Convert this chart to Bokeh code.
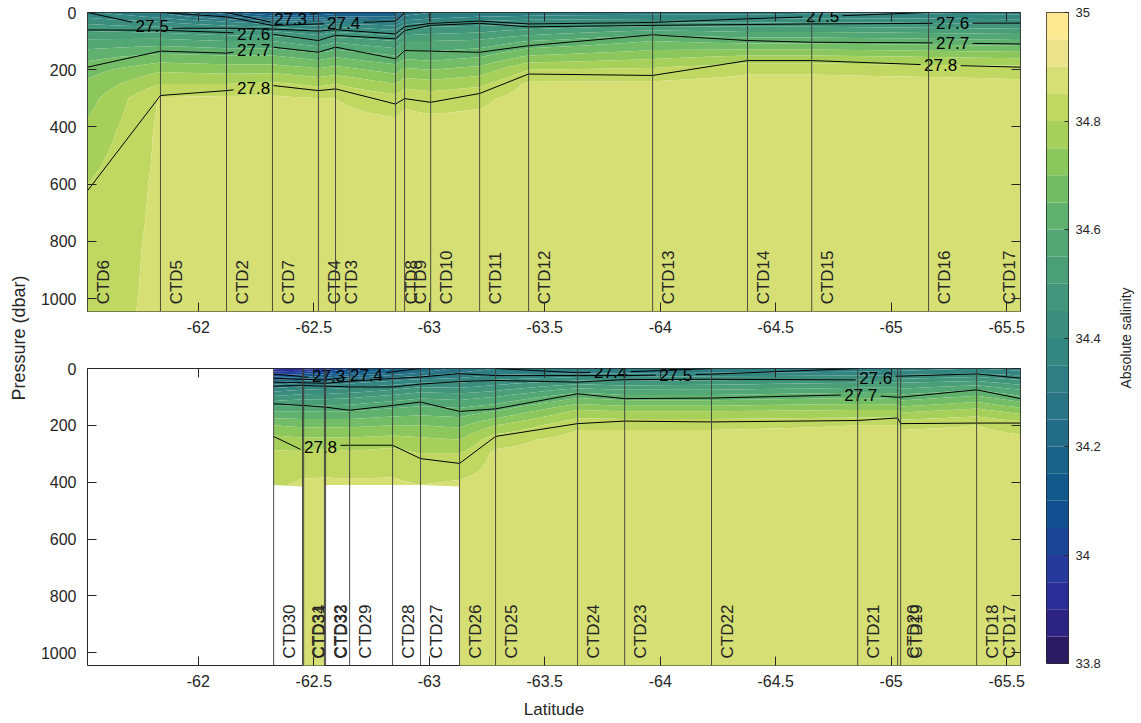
import math
import numpy as np
from bokeh.plotting import figure
from bokeh.layouts import row, column
from bokeh.models import (Range1d, LinearAxis, FixedTicker, Span,
                          NumeralTickFormatter, CustomJSTickFormatter)
from bokeh.embed import file_html
from bokeh.resources import INLINE
from bokeh.core.properties import value

NA = None

# ---------------- colour scale: absolute salinity ----------------
sal_lo, sal_hi, sal_step = 33.8, 35.0, 0.05
sal_palette = [
    "#2b1b62", "#2d2382", "#2b2d97", "#253a9b", "#1b4597", "#124f91",
    "#135a8c", "#1a6389", "#226c87", "#297585", "#2f7e83", "#348681",
    "#3b8e7e", "#42967c", "#4a9f79", "#53a775", "#60b16e", "#73bd66",
    "#8cc75d", "#a6d05a", "#c0d862", "#d6df74", "#ebe38a", "#fde98f",
]
cbar_ticks = [33.8, 34.0, 34.2, 34.4, 34.6, 34.8, 35.0]
x_ticks = [-62, -62.5, -63, -63.5, -64, -64.5, -65, -65.5]
y_ticks = [0, 200, 400, 600, 800, 1000]
p_axis_max = 1045

# pressure levels of the station profiles (dbar)
pres_levels = [0, 15, 30, 50, 75, 100, 150, 200, 250, 300, 410, 600, 800, 1050]

# ---------------- upper section ----------------
top_names = ["CTD6", "CTD5", "CTD2", "CTD7", "CTD4", "CTD3", "CTD8", "CTD9",
             "CTD10", "CTD11", "CTD12", "CTD13", "CTD14", "CTD15", "CTD16", "CTD17"]
top_lat = [-61.52, -61.836, -62.122, -62.321, -62.520, -62.594, -62.854, -62.893,
           -63.006, -63.218, -63.430, -63.967, -64.378, -64.656, -65.162, -65.56]
top_salinity = [
    [34.36, 34.39, 34.43, 34.47, 34.52, 34.56, 34.63, 34.68, 34.71, 34.73, 34.76, 34.80, 34.82, 34.83],
    [34.30, 34.34, 34.39, 34.45, 34.51, 34.57, 34.66, 34.74, 34.80, 34.855, 34.86, 34.86, 34.86, 34.86],
    [34.17, 34.25, 34.34, 34.42, 34.49, 34.55, 34.65, 34.73, 34.80, 34.86, 34.87, 34.87, 34.87, 34.87],
    [34.08, 34.18, 34.30, 34.40, 34.48, 34.55, 34.65, 34.73, 34.81, 34.86, 34.87, 34.87, 34.87, 34.87],
    [34.10, 34.18, 34.28, 34.37, 34.44, 34.51, 34.62, 34.71, 34.79, 34.85, 34.87, 34.87, 34.87, 34.87],
    [34.12, 34.21, 34.31, 34.40, 34.47, 34.54, 34.64, 34.72, 34.80, 34.85, 34.87, 34.87, 34.87, 34.87],
    [34.12, 34.20, 34.29, 34.37, 34.44, 34.50, 34.60, 34.68, 34.75, 34.82, 34.87, 34.87, 34.87, 34.87],
    [34.27, 34.31, 34.36, 34.43, 34.49, 34.55, 34.63, 34.71, 34.78, 34.84, 34.87, 34.87, 34.87, 34.87],
    [34.30, 34.33, 34.38, 34.45, 34.50, 34.55, 34.62, 34.70, 34.77, 34.83, 34.87, 34.87, 34.87, 34.87],
    [34.31, 34.35, 34.40, 34.46, 34.51, 34.56, 34.64, 34.72, 34.79, 34.84, 34.87, 34.87, 34.87, 34.87],
    [34.32, 34.36, 34.42, 34.48, 34.54, 34.60, 34.70, 34.80, 34.86, 34.87, 34.87, 34.87, 34.87, 34.87],
    [34.33, 34.37, 34.43, 34.51, 34.59, 34.65, 34.73, 34.81, 34.86, 34.87, 34.87, 34.87, 34.87, 34.87],
    [34.33, 34.37, 34.43, 34.50, 34.57, 34.63, 34.75, 34.84, 34.87, 34.87, 34.87, 34.87, 34.87, 34.87],
    [34.34, 34.38, 34.44, 34.50, 34.57, 34.63, 34.75, 34.84, 34.87, 34.87, 34.87, 34.87, 34.87, 34.87],
    [34.34, 34.38, 34.43, 34.49, 34.56, 34.62, 34.74, 34.83, 34.87, 34.87, 34.87, 34.87, 34.87, 34.87],
    [34.33, 34.37, 34.42, 34.48, 34.55, 34.61, 34.73, 34.83, 34.86, 34.87, 34.87, 34.87, 34.87, 34.87],
]
# isopycnal depths (dbar) at each station, None where the surface is absent
top_s273 = [NA, NA, 0, 35, 0, NA, NA, NA, NA, NA, NA, NA, NA, NA, NA, NA]
top_s274 = [NA, 0, 15, 45, 40, 38, 30, 0, NA, NA, NA, NA, NA, NA, NA, NA]
top_s275 = [0, 55, 55, 58, 65, 60, 75, 50, 38, 30, 40, 35, 22, 15, 0, NA]
top_s276 = [61, 62, 70, 76, 98, 80, 92, 63, 45, 38, 50, 45, 42, 40, 38, 37]
top_s277 = [191, 135, 142, 121, 139, 121, 162, 133, 135, 139, 116, 78, 98, 104, 106, 110]
top_s278 = [623, 290, 273, 255, 273, 267, 320, 301, 314, 283, 215, 220, 168, 168, 183, 191]
top_label_level = ["27.5", "27.6", "27.7", "27.8", "27.3", "27.4", "27.5", "27.6", "27.7", "27.8"]
top_label_lat = [-61.80, -62.239, -62.239, -62.239, -62.399, -62.629, -64.703, -65.266, -65.266, -65.214]

# ---------------- lower section ----------------
bot_names = ["CTD30", "CTD31", "CTD34", "CTD32", "CTD33", "CTD29", "CTD28", "CTD27", "CTD26",
             "CTD25", "CTD24", "CTD23", "CTD22", "CTD21", "CTD20", "CTD19", "CTD18", "CTD17"]
bot_lat = [-62.326, -62.451, -62.456, -62.546, -62.551, -62.655, -62.841, -62.962, -63.131,
           -63.287, -63.642, -63.846, -64.222, -64.855, -65.028, -65.041, -65.370, -65.56]
bot_salinity = [
    [33.88, 33.98, 34.12, 34.27, 34.38, 34.46, 34.60, 34.70, 34.77, 34.81, 34.84, NA, NA, NA],
    [33.90, 34.00, 34.15, 34.30, 34.40, 34.48, 34.60, 34.69, 34.76, 34.81, 34.86, 34.87, 34.87, 34.87],
    [33.92, 34.02, 34.16, 34.31, 34.40, 34.48, 34.60, 34.69, 34.76, 34.81, 34.86, 34.87, 34.87, 34.87],
    [33.95, 34.05, 34.18, 34.32, 34.41, 34.48, 34.60, 34.69, 34.76, 34.82, 34.86, 34.87, 34.87, 34.87],
    [33.97, 34.07, 34.19, 34.33, 34.41, 34.48, 34.60, 34.69, 34.76, 34.82, 34.86, NA, NA, NA],
    [34.05, 34.12, 34.22, 34.34, 34.42, 34.49, 34.60, 34.69, 34.76, 34.81, 34.86, NA, NA, NA],
    [34.15, 34.21, 34.29, 34.38, 34.45, 34.52, 34.62, 34.70, 34.77, 34.82, 34.86, NA, NA, NA],
    [34.20, 34.25, 34.32, 34.40, 34.48, 34.54, 34.63, 34.70, 34.76, 34.80, 34.85, NA, NA, NA],
    [34.27, 34.30, 34.34, 34.40, 34.47, 34.53, 34.62, 34.69, 34.75, 34.80, 34.86, 34.87, 34.87, 34.87],
    [34.30, 34.33, 34.37, 34.43, 34.49, 34.55, 34.65, 34.75, 34.83, 34.86, 34.87, 34.87, 34.87, 34.87],
    [34.30, 34.34, 34.40, 34.48, 34.57, 34.64, 34.76, 34.84, 34.87, 34.87, 34.87, 34.87, 34.87, 34.87],
    [34.30, 34.34, 34.40, 34.47, 34.55, 34.62, 34.75, 34.84, 34.87, 34.87, 34.87, 34.87, 34.87, 34.87],
    [34.31, 34.35, 34.41, 34.48, 34.55, 34.62, 34.75, 34.84, 34.87, 34.87, 34.87, 34.87, 34.87, 34.87],
    [34.32, 34.36, 34.42, 34.50, 34.57, 34.64, 34.76, 34.85, 34.87, 34.87, 34.87, 34.87, 34.87, 34.87],
    [34.33, 34.37, 34.43, 34.50, 34.57, 34.63, 34.76, 34.85, 34.87, 34.87, 34.87, 34.87, 34.87, 34.87],
    [34.33, 34.37, 34.43, 34.50, 34.56, 34.62, 34.74, 34.84, 34.87, 34.87, 34.87, 34.87, 34.87, 34.87],
    [34.35, 34.39, 34.45, 34.52, 34.60, 34.66, 34.77, 34.85, 34.87, 34.87, 34.87, 34.87, 34.87, 34.87],
    [34.33, 34.37, 34.42, 34.48, 34.55, 34.61, 34.73, 34.83, 34.86, 34.87, 34.87, 34.87, 34.87, 34.87],
]
bot_s273 = [20, 28, 30, 32, 32, 0, NA, NA, NA, NA, NA, NA, NA, NA, NA, NA, NA, NA]
bot_s274 = [35, 38, 38, 40, 40, 30, 12, 0, NA, 0, 15, 12, 0, NA, NA, NA, NA, NA]
bot_s275 = [48, 50, 50, 52, 52, 45, 35, 30, 18, 25, 25, 25, 20, 0, NA, NA, NA, NA]
bot_s276 = [62, 60, 60, 62, 62, 65, 65, 55, 46, 42, 48, 39, 38, 40, 27, 27, 19, 34]
bot_s277 = [124, 130, 130, 136, 136, 147, 130, 118, 151, 142, 89, 106, 104, 92, 101, 101, 75, 106]
bot_s278 = [239, 288, 290, 272, 271, 270, 270, 317, 334, 239, 194, 185, 188, 183, 174, 194, 192, 192]
bot_label_level = ["27.3", "27.4", "27.8", "27.4", "27.5", "27.6", "27.7"]
bot_label_lat = [-62.564, -62.728, -62.529, -63.785, -64.067, -64.933, -64.868]

# ---------------- styling ----------------
FONT = "Liberation Sans"
INK = "#262626"
STATION = "#3c3c3c"
TICK_PX = "16px"
H_TOP = 340
H_BOT = 382
H_TOTAL = H_TOP + H_BOT
W_MAIN = 999
BORDER_LEFT = 51
BORDER_RIGHT = 15
FRAME_W = W_MAIN - BORDER_LEFT - BORDER_RIGHT
GAP_PX = 20
ctd_label_p = 1020

sal_levels = [round(sal_lo + i * sal_step, 4) for i in range(len(sal_palette) + 1)]
all_lat = top_lat + bot_lat
x_start, x_end = max(all_lat), min(all_lat)
px_per_deg = FRAME_W / (x_start - x_end)


def iso_pieces(lats, dep, gaps):
    xs, ys = [], []
    cx, cy = None, None
    for i in range(len(lats) - 1):
        d0, d1 = dep[i], dep[i + 1]
        if d0 is None or d1 is None:
            if cx:
                xs.append(cx); ys.append(cy)
            cx, cy = None, None
            continue
        u0, u1 = -lats[i], -lats[i + 1]
        parts = [(u0, u1)]
        for g0, g1 in gaps:
            new = []
            for a, b in parts:
                if b <= g0 or a >= g1:
                    new.append((a, b))
                    continue
                if a < g0:
                    new.append((a, g0))
                if b > g1:
                    new.append((g1, b))
            parts = new
        for a, b in parts:
            ya = d0 + (d1 - d0) * (a - u0) / (u1 - u0)
            yb = d0 + (d1 - d0) * (b - u0) / (u1 - u0)
            if cx and abs(cx[-1] + a) < 1e-9:
                cx.append(-b); cy.append(yb)
            else:
                if cx:
                    xs.append(cx); ys.append(cy)
                cx, cy = [-a, -b], [ya, yb]
    if cx:
        xs.append(cx); ys.append(cy)
    return xs, ys


def depth_at(lats, dep, L):
    for i in range(len(lats) - 1):
        if lats[i] >= L >= lats[i + 1] and dep[i] is not None and dep[i + 1] is not None:
            t = (lats[i] - L) / (lats[i] - lats[i + 1])
            return dep[i] + t * (dep[i + 1] - dep[i])
    return None


def style_axis(ax, ticks, labels=True):
    ax.ticker = FixedTicker(ticks=ticks)
    ax.major_tick_in = 9
    ax.major_tick_out = 0
    ax.minor_tick_line_color = None
    ax.axis_line_color = None
    ax.major_tick_line_color = INK
    if labels:
        ax.major_label_text_font = FONT
        ax.major_label_text_font_size = TICK_PX
        ax.major_label_text_color = INK
    else:
        ax.formatter = CustomJSTickFormatter(code="return ''")
        ax.major_label_text_font_size = "0px"
        ax.major_label_standoff = 0


def build_panel(names, lats, salinity, iso, lab_levels, lab_lats, height, b_top, b_bottom, xlabel=None):
    p = figure(width=W_MAIN, height=height,
               x_range=Range1d(x_start, x_end), y_range=Range1d(p_axis_max, 0),
               toolbar_location=None, output_backend="svg",
               min_border_left=BORDER_LEFT, min_border_right=BORDER_RIGHT,
               min_border_top=b_top, min_border_bottom=b_bottom)
    p.grid.visible = False
    p.outline_line_color = INK
    p.outline_line_width = 1

    # salinity field
    lat_arr = np.array(lats, float)
    pl = np.array(pres_levels, float)
    p_fine = np.arange(0.0, pl.max() + 1, 5.0)
    Z = np.full((p_fine.size, lat_arr.size), np.nan)
    for j, prof in enumerate(salinity):
        sv = np.array([np.nan if v is None else v for v in prof], float)
        ok = ~np.isnan(sv)
        col = np.interp(p_fine, pl[ok], sv[ok])
        col[p_fine > pl[ok].max()] = np.nan
        Z[:, j] = col
    X, Y = np.meshgrid(lat_arr, p_fine)
    p.contour(X, Y, Z, levels=sal_levels, fill_color=sal_palette, line_color=None)

    # isopycnals with gaps for labels
    w = GAP_PX / px_per_deg
    for lev, dep in iso.items():
        gaps = [(-L - w, -L + w) for t, L in zip(lab_levels, lab_lats) if t == lev]
        xs, ys = iso_pieces(lats, dep, gaps)
        p.multi_line(xs=xs, ys=ys, line_color="black", line_width=1)
    lx, ly, lt = [], [], []
    for t, L in zip(lab_levels, lab_lats):
        d = depth_at(lats, iso[t], L)
        if d is not None:
            lx.append(L); ly.append(d); lt.append(t)
    p.text(x=lx, y=ly, text=lt, text_align="center", text_baseline="middle",
           text_font=value(FONT), text_font_size="17px", text_color="black")

    # stations
    for L in lats:
        p.add_layout(Span(location=L, dimension="height", line_color=STATION,
                          line_width=1, line_alpha=0.9))
    offs = [16 if (L - x_end) * px_per_deg > 30 else -11 for L in lats]
    p.text(x=lats, y=[ctd_label_p] * len(lats), text=names, angle=math.pi / 2,
           x_offset=offs, text_align="left", text_baseline="middle",
           text_font=value(FONT), text_font_size="17px", text_color=INK)

    # axes
    xb = p.below[0]
    yl = p.left[0]
    style_axis(xb, x_ticks)
    xb.formatter = NumeralTickFormatter(format="0.[0]")
    xb.major_label_standoff = 9
    style_axis(yl, y_ticks)
    yl.major_label_standoff = 11
    ax_top = LinearAxis()
    style_axis(ax_top, x_ticks, labels=False)
    p.add_layout(ax_top, "above")
    ax_right = LinearAxis()
    style_axis(ax_right, y_ticks, labels=False)
    p.add_layout(ax_right, "right")
    if xlabel:
        xb.axis_label = xlabel
        xb.axis_label_text_font = FONT
        xb.axis_label_text_font_size = "17px"
        xb.axis_label_text_font_style = "normal"
        xb.axis_label_text_color = INK
        xb.axis_label_standoff = 10
    return p


top_iso = {"27.3": top_s273, "27.4": top_s274, "27.5": top_s275,
           "27.6": top_s276, "27.7": top_s277, "27.8": top_s278}
bot_iso = {"27.3": bot_s273, "27.4": bot_s274, "27.5": bot_s275,
           "27.6": bot_s276, "27.7": bot_s277, "27.8": bot_s278}

p_top = build_panel(top_names, top_lat, top_salinity, top_iso, top_label_level, top_label_lat,
                    height=H_TOP, b_top=12, b_bottom=29)
p_bot = build_panel(bot_names, bot_lat, bot_salinity, bot_iso, bot_label_level, bot_label_lat,
                    height=H_BOT, b_top=28, b_bottom=57, xlabel="Latitude")


def text_column(text, width, size):
    f = figure(width=width, height=H_TOTAL, x_range=Range1d(0, 1), y_range=Range1d(0, 1),
               toolbar_location=None, output_backend="svg",
               x_axis_location=None, y_axis_location=None, min_border=0)
    f.grid.visible = False
    f.outline_line_color = None
    f.text(x=[0.5], y=[0.5], text=[text], angle=math.pi / 2, text_align="center",
           text_baseline="middle", text_font=value(FONT), text_font_size=size, text_color=INK)
    return f


ylab = text_column("Pressure (dbar)", 36, "18px")

# colour bar
cb = figure(width=80, height=H_TOTAL, x_range=Range1d(0, 1), y_range=Range1d(sal_lo, sal_hi),
            toolbar_location=None, output_backend="svg",
            x_axis_location=None, y_axis_location="right",
            min_border_left=11, min_border_right=47, min_border_top=12,
            min_border_bottom=H_TOTAL - 663)
cb.grid.visible = False
cb.quad(left=0, right=1, bottom=sal_levels[:-1], top=sal_levels[1:],
        fill_color=sal_palette, line_color=None)
cb.outline_line_color = INK
cb.yaxis.ticker = FixedTicker(ticks=cbar_ticks)
cb.yaxis.formatter = NumeralTickFormatter(format="0.[0]")
cb.yaxis.major_tick_in = 4
cb.yaxis.major_tick_out = 0
cb.yaxis.minor_tick_line_color = None
cb.yaxis.axis_line_color = None
cb.yaxis.major_tick_line_color = INK
cb.yaxis.major_label_standoff = 7
cb.yaxis.major_label_text_font = FONT
cb.yaxis.major_label_text_font_size = "13px"
cb.yaxis.major_label_text_color = INK

cblab = text_column("Absolute salinity", 20, "14px")

layout = row(ylab, column(p_top, p_bot), cb, cblab)
open("out.html", "w").write(file_html(layout, INLINE, "Salinity sections"))
